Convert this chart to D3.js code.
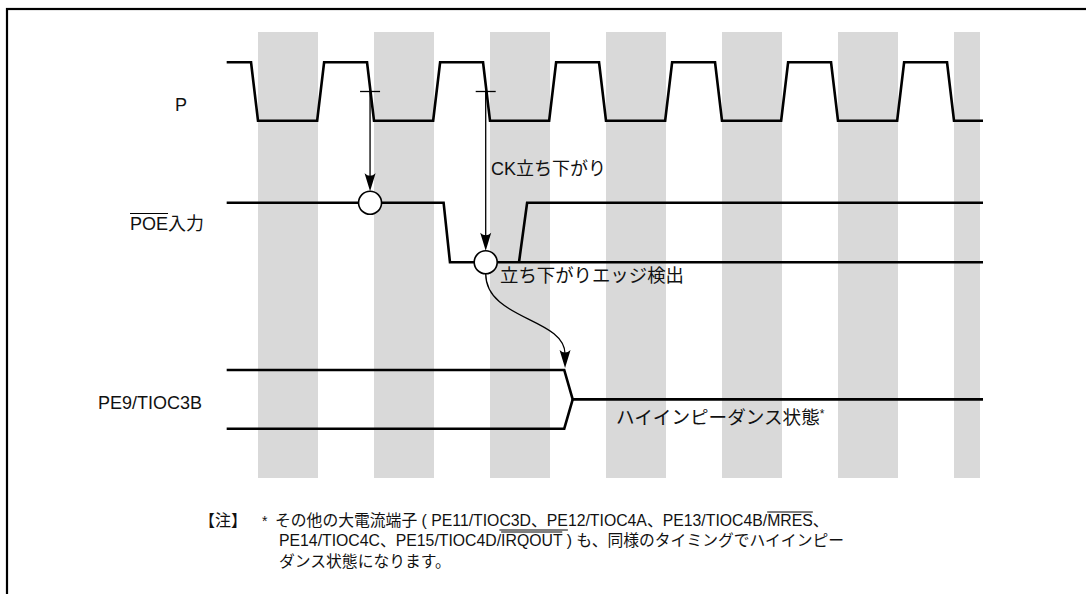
<!DOCTYPE html>
<html>
<head>
  <meta charset="utf-8">
  <script src="https://cdnjs.cloudflare.com/ajax/libs/d3/7.8.5/d3.min.js"></script>
  <style>
    body { margin: 0; background: #fff; }
    svg text { font-family: "Liberation Sans", Arial, "Noto Sans CJK JP", sans-serif; fill: #111; }
  </style>
</head>
<body>
  <div id="chart"></div>

  <script>
    // time is in clock cycles, 0 = start of first grey band
    var bandStarts = [0, 1, 2, 3, 4, 5, 6];
    var bandWidth = 0.517;
    var tEnd = 6.25;

    var signalLabels = ["P", "POE入力", "PE9/TIOC3B"];

    // [time, level]
    var clockPts = [
      [-0.27, 1], [-0.06, 1], [0, 0], [0.51, 0], [0.57, 1], [0.94, 1],
      [1, 0], [1.51, 0], [1.57, 1], [1.94, 1],
      [2, 0], [2.51, 0], [2.57, 1], [2.94, 1],
      [3, 0], [3.51, 0], [3.57, 1], [3.94, 1],
      [4, 0], [4.51, 0], [4.57, 1], [4.94, 1],
      [5, 0], [5.51, 0], [5.57, 1], [5.94, 1],
      [6, 0], [6.25, 0]
    ];
    var poePts = [[-0.27, 1], [1.6, 1], [1.655, 0], [6.25, 0]];
    var poeRisePts = [[2.25, 0], [2.32, 1], [6.25, 1]];
    var pe9UpperPts = [[-0.27, 1], [2.64, 1], [2.713, 0.5], [6.25, 0.5]];
    var pe9LowerPts = [[-0.27, 0], [2.64, 0], [2.713, 0.5]];

    // sampling points: clock falling edge -> POE level
    var sampleTimes = [0.966, 1.963];
    var sampleLevels = [1, 0];
    var hizTime = 2.647;

    var annotations = ["CK立ち下がり", "立ち下がりエッジ検出", "ハイインピーダンス状態"];

    var noteLines = [
      [["その他の大電流端子 ( PE11/TIO", ""], ["C3D、PE", "u"], ["12/TIOC4A、PE13/TIOC4B/", ""], ["MRES", "o"], ["、", ""]],
      [["PE14/TIOC4C、PE15/TIOC4D/", ""], ["IRQOUT", "o"], [" ) も、同様のタイミングでハイインピー", ""]],
      [["ダンス状態になります。", ""]]
    ];

    var W = 1086, H = 594;
    var svg = d3.select("#chart").append("svg")
      .attr("width", W)
      .attr("height", H);

    var x = d3.scaleLinear().domain([0, 6]).range([258, 954]);
    var yClk = d3.scaleLinear().domain([0, 1]).range([120.7, 62.3]);
    var yPoe = d3.scaleLinear().domain([0, 1]).range([262.3, 202.7]);
    var yPe9 = d3.scaleLinear().domain([0, 1]).range([428.7, 370]);

    // frame (runs off the right and bottom)
    svg.append("rect")
      .attr("x", 7).attr("y", 9)
      .attr("width", 1200).attr("height", 700)
      .attr("fill", "none")
      .attr("stroke", "#000")
      .attr("stroke-width", 2.2);

    // grey bands
    svg.selectAll("rect.band")
      .data(bandStarts)
      .enter().append("rect")
      .attr("class", "band")
      .attr("x", d => x(d))
      .attr("y", 32)
      .attr("width", d => x(Math.min(d + bandWidth, 6.224)) - x(d))
      .attr("height", 446)
      .attr("fill", "#d9d9d9");

    function wave(pts, y) {
      svg.append("path")
        .attr("d", d3.line().x(d => x(d[0])).y(d => y(d[1]))(pts))
        .attr("fill", "none")
        .attr("stroke", "#000")
        .attr("stroke-width", 2.6)
        .attr("stroke-linejoin", "miter");
    }
    wave(clockPts, yClk);
    wave(poePts, yPoe);
    wave(poeRisePts, yPoe);
    wave(pe9UpperPts, yPe9);
    wave(pe9LowerPts, yPe9);

    function arrowHead(tx, ty) {
      svg.append("path")
        .attr("d", "M" + tx + "," + ty + " L" + (tx - 5.5) + "," + (ty - 18) +
          " Q" + tx + "," + (ty - 13) + " " + (tx + 5.5) + "," + (ty - 18) + " Z")
        .attr("fill", "#000");
    }

    var r = 11.5;
    sampleTimes.forEach(function (t, i) {
      var cx = x(t), cy = yPoe(sampleLevels[i]);
      var y0 = yClk(0.5);
      svg.append("line")
        .attr("x1", cx - 10).attr("x2", cx + 10)
        .attr("y1", y0).attr("y2", y0)
        .attr("stroke", "#000").attr("stroke-width", 1.3);
      svg.append("line")
        .attr("x1", cx).attr("x2", cx)
        .attr("y1", y0).attr("y2", cy - r - 4)
        .attr("stroke", "#000").attr("stroke-width", 1.3);
      arrowHead(cx, cy - r);
    });

    // curved arrow from edge detection to PE9 hi-z
    var sx = x(sampleTimes[1]), sy = yPoe(0) + r;
    var ex = x(hizTime), ey = yPe9(1) - 2;
    svg.append("path")
      .attr("d", "M" + sx + "," + sy + " C" + sx + "," + (sy + 46) + " " + ex + "," + (sy + 44) + " " + ex + "," + (ey - 14))
      .attr("fill", "none")
      .attr("stroke", "#000")
      .attr("stroke-width", 1.3);
    arrowHead(ex, ey);

    sampleTimes.forEach(function (t, i) {
      svg.append("circle")
        .attr("cx", x(t)).attr("cy", yPoe(sampleLevels[i]))
        .attr("r", r)
        .attr("fill", "#fff")
        .attr("stroke", "#000")
        .attr("stroke-width", 1.6);
    });

    // signal labels
    var labelPos = [[175, 110.5], [130, 230], [98, 409]];
    signalLabels.forEach(function (s, i) {
      svg.append("text")
        .attr("x", labelPos[i][0]).attr("y", labelPos[i][1])
        .attr("font-size", 18)
        .text(s);
    });
    var poeLabel = svg.append("text").attr("x", -100).attr("y", -100).attr("font-size", 18).text("POE");
    var poeW = poeLabel.node().getComputedTextLength();
    poeLabel.remove();
    svg.append("line")
      .attr("x1", 130).attr("x2", 130 + poeW)
      .attr("y1", 213.5).attr("y2", 213.5)
      .attr("stroke", "#000").attr("stroke-width", 1);

    // annotations
    svg.append("text").attr("x", 491).attr("y", 175).attr("font-size", 18).text(annotations[0]);
    svg.append("text").attr("x", 500).attr("y", 281.5).attr("font-size", 18.4).text(annotations[1]);
    var hiz = svg.append("text").attr("x", 616).attr("y", 423.5).attr("font-size", 18.6);
    hiz.append("tspan").text(annotations[2]);
    hiz.append("tspan").attr("font-size", 12).attr("dy", -6).text("*");

    // note
    var fsNote = 15.8;
    svg.append("text").attr("x", 199).attr("y", 526).attr("font-size", 16).text("【注】");
    svg.append("text").attr("x", 262).attr("y", 526).attr("font-size", 14).attr("fill", "#444").text("*");
    var noteX = [275, 279, 279], noteY = [526, 546, 567];
    noteLines.forEach(function (segs, li) {
      var t = svg.append("text")
        .attr("x", noteX[li]).attr("y", noteY[li])
        .attr("font-size", fsNote);
      var spans = segs.map(function (s) {
        return { node: t.append("tspan").text(s[0]).node(), kind: s[1] };
      });
      spans.forEach(function (sp) {
        if (!sp.kind) return;
        var x0 = sp.node.getStartPositionOfChar(0).x;
        var w = sp.node.getComputedTextLength();
        var yy = sp.kind === "o" ? noteY[li] - 14 : noteY[li] + 4;
        svg.append("line")
          .attr("x1", x0).attr("x2", x0 + w)
          .attr("y1", yy).attr("y2", yy)
          .attr("stroke", "#000").attr("stroke-width", 1);
      });
    });
  </script>
</body>
</html>
